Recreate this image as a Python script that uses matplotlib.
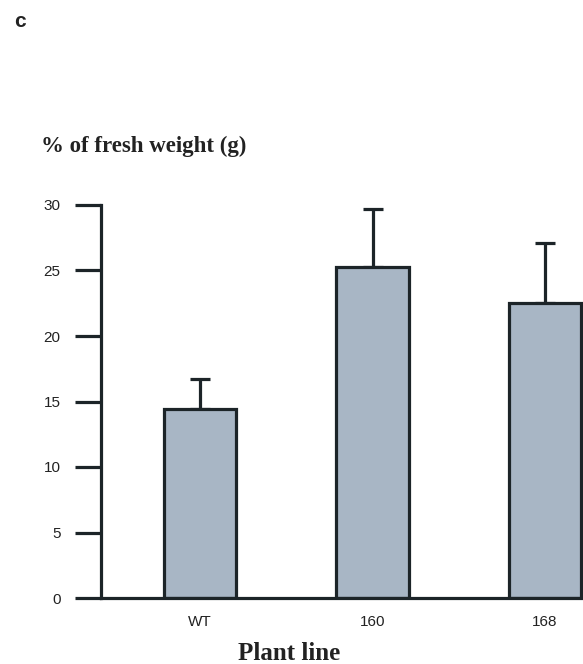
import matplotlib
matplotlib.use("Agg")
import matplotlib.pyplot as plt
import numpy as np

# Plant lines and their mean values with upper error (SD)
lines = ["WT", "160", "168"]
means = [14.4, 25.3, 22.5]
errors = [2.3, 4.4, 4.6]
yticks = [0, 5, 10, 15, 20, 25, 30]

W, H = 583, 664
fig = plt.figure(figsize=(W / 100, H / 100), dpi=100)

# axes placed in pixel units
left, right, bottom, top = 101, 583, 598, 205
ax = fig.add_axes([left / W, 1 - bottom / H, (right - left) / W, (bottom - top) / H])

dark = "#1c2428"
fill = "#a8b6c5"
lw = 2.3

x = np.arange(len(lines))
ax.bar(x, means, width=0.42, color=fill, edgecolor=dark, linewidth=lw, zorder=2)
ax.errorbar(x, means, yerr=[np.zeros(len(errors)), errors], fmt="none",
            ecolor=dark, elinewidth=lw, capsize=7, capthick=lw, zorder=1)

ax.set_xlim(-0.574, 2.22)
ax.set_ylim(0, 30)
ax.set_yticks(yticks)
ax.set_xticks(x)
ax.set_xticklabels(lines)

for s in ["top", "right"]:
    ax.spines[s].set_visible(False)
for s in ["left", "bottom"]:
    ax.spines[s].set_linewidth(lw)
    ax.spines[s].set_color(dark)
    ax.spines[s].set_capstyle("projecting")

ax.tick_params(axis="y", length=19, width=lw, color=dark, pad=10,
               labelsize=11, labelcolor="#222222")
ax.tick_params(axis="x", length=0, pad=12, labelsize=11, labelcolor="#222222")
for lab in ax.get_xticklabels() + ax.get_yticklabels():
    lab.set_family("Liberation Sans")

fig.text(14 / W, 1 - 27 / H, "c", family="Liberation Sans", weight="bold",
         fontsize=15, va="baseline", ha="left", color="#222222")
fig.text(41 / W, 1 - 152 / H, "% of fresh weight (g)", family="Liberation Serif",
         weight="bold", fontsize=16.5, va="baseline", ha="left", color="#222222")
fig.text(289 / W, 1 - 660 / H, "Plant line", family="Liberation Serif",
         weight="bold", fontsize=18, va="baseline", ha="center", color="#222222")

fig.savefig("out.png", dpi=100)
